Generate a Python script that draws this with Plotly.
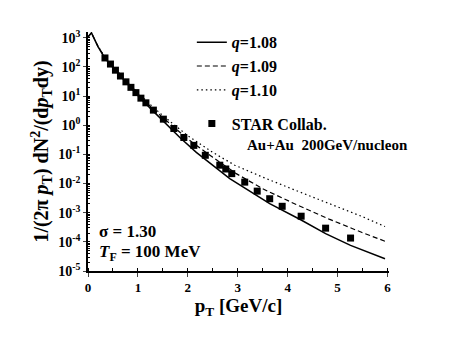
import plotly.graph_objs as go

# model curves (pT in GeV/c)
curve_x_108 = [0, 0.07, 0.2, 0.34, 0.5, 0.75, 1.0, 1.25, 1.5, 1.84, 2.17, 2.5, 2.84, 3.64, 4.27, 4.76, 5.26, 5.95]
curve_y_108 = [1.07e3, 1.48e3, 5.0e2, 2.0e2, 95.5, 31.6, 10.5, 3.80, 1.41, 0.380, 0.117, 0.0407, 0.0148,
               2.04e-3, 5.62e-4, 1.91e-4, 7.59e-5, 2.63e-5]

curve_x_109 = [0, 0.07, 0.2, 0.34, 0.5, 0.75, 1.0, 1.25, 1.5, 2.0, 2.5, 2.97, 3.5, 4.17, 4.83, 5.49, 5.95]
curve_y_109 = [1.07e3, 1.48e3, 5.1e2, 2.09e2, 1.0e2, 33.9, 11.7, 4.47, 1.82, 0.339, 0.0794, 0.0219,
               6.61e-3, 1.91e-3, 6.03e-4, 2.09e-4, 1.05e-4]

curve_x_110 = [0, 0.07, 0.2, 0.34, 0.5, 0.75, 1.0, 1.25, 1.5, 2.0, 2.5, 2.94, 3.5, 4.17, 4.83, 5.49, 5.95]
curve_y_110 = [1.07e3, 1.48e3, 5.2e2, 2.14e2, 1.05e2, 36.3, 12.9, 5.13, 2.14, 0.437, 0.117, 0.0427,
               0.0166, 5.75e-3, 2.04e-3, 7.41e-4, 3.35e-4]

# STAR Au+Au 200 GeV data
star_x = [0.34, 0.45, 0.55, 0.65, 0.76, 0.86, 0.96, 1.06, 1.16, 1.31, 1.51, 1.72, 1.92, 2.12, 2.35,
          2.64, 2.76, 2.88, 3.14, 3.39, 3.64, 3.89, 4.27, 4.76, 5.26]
star_y = [204, 126, 77.6, 49.0, 30.9, 20.0, 13.2, 8.51, 5.89, 3.31, 1.62, 0.776, 0.380, 0.204, 0.0933,
          0.0427, 0.0316, 0.0219, 0.0112, 5.50e-3, 3.02e-3, 1.66e-3, 7.59e-4, 2.95e-4, 1.35e-4]

y_tickvals = [1e-5, 1e-4, 1e-3, 1e-2, 1e-1, 1e0, 1e1, 1e2, 1e3]
y_ticktext = ['10<sup>-5</sup>', '10<sup>-4</sup>', '10<sup>-3</sup>', '10<sup>-2</sup>', '10<sup>-1</sup>',
              '10<sup>0</sup>', '10<sup>1</sup>', '10<sup>2</sup>', '10<sup>3</sup>']

FONT = 'Liberation Serif'

traces = [
    go.Scatter(x=curve_x_108, y=curve_y_108, mode='lines', name='<i>q</i>=1.08', legendgroup='model',
               line=dict(color='black', width=1.5)),
    go.Scatter(x=curve_x_109, y=curve_y_109, mode='lines', name='<i>q</i>=1.09', legendgroup='model',
               line=dict(color='black', width=1.2, dash='5px,3px')),
    go.Scatter(x=curve_x_110, y=curve_y_110, mode='lines', name='<i>q</i>=1.10', legendgroup='model',
               line=dict(color='black', width=1.2, dash='1.5px,3px')),
    go.Scatter(x=star_x, y=star_y, mode='markers', name='STAR Collab.', legendgroup='data',
               marker=dict(symbol='square', size=7, color='black')),
]

# the page body adds 8px around the figure, so the figure is 8px smaller
layout = go.Layout(
    width=455, height=333,
    margin=dict(l=80, r=74, t=24, b=70),
    paper_bgcolor='white', plot_bgcolor='white',
    font=dict(family=FONT, color='black', weight='bold'),
    showlegend=True,
    legend=dict(x=0.345, y=1.028, xanchor='left', yanchor='top', bgcolor='rgba(0,0,0,0)',
                font=dict(family=FONT, size=16, weight='bold'), traceorder='grouped',
                tracegroupgap=10, itemwidth=30),
    xaxis=dict(range=[0, 6.03], showgrid=False, zeroline=False, showline=True, linecolor='black',
               linewidth=1.5, ticks='outside', ticklen=4, tickwidth=1.2, dtick=1, automargin=False,
               tickfont=dict(family=FONT, size=13, weight='bold'),
               minor=dict(ticks='inside', ticklen=3, dtick=0.5, tickcolor='black'),
               title=dict(text='p<sub>T</sub> [GeV/c]', font=dict(family=FONT, size=19, weight='bold'),
                          standoff=2)),
    yaxis=dict(type='log', range=[-5, 3.2], showgrid=False, zeroline=False, showline=True,
               linecolor='black', linewidth=1.5, ticks='outside', ticklen=3, tickwidth=1.2,
               tickvals=y_tickvals, ticktext=y_ticktext, automargin=False,
               tickfont=dict(family=FONT, size=14, weight='bold'),
               minor=dict(ticks='inside', ticklen=2, dtick='D1', tickcolor='black'),
               title=dict(text='1/(2π <i>p</i><sub>T</sub>) dN<sup>2</sup>/(d<i>p</i><sub>T</sub>dy)',
                          font=dict(family=FONT, size=20, weight='bold'), standoff=4)),
    annotations=[
        dict(text='Au+Au  200GeV/nucleon', xref='paper', yref='paper', x=0.52, y=0.527,
             xanchor='left', yanchor='middle', showarrow=False,
             font=dict(family=FONT, size=15, weight='bold')),
        dict(text='σ = 1.30', xref='paper', yref='paper', x=0.03, y=0.167,
             xanchor='left', yanchor='middle', showarrow=False,
             font=dict(family=FONT, size=17, weight='bold')),
        dict(text='<i>T</i><sub>F</sub> = 100 MeV', xref='paper', yref='paper', x=0.03, y=0.075,
             xanchor='left', yanchor='middle', showarrow=False,
             font=dict(family=FONT, size=17, weight='bold')),
    ],
)

fig = go.Figure(data=traces, layout=layout)
fig.write_html("out.html")
